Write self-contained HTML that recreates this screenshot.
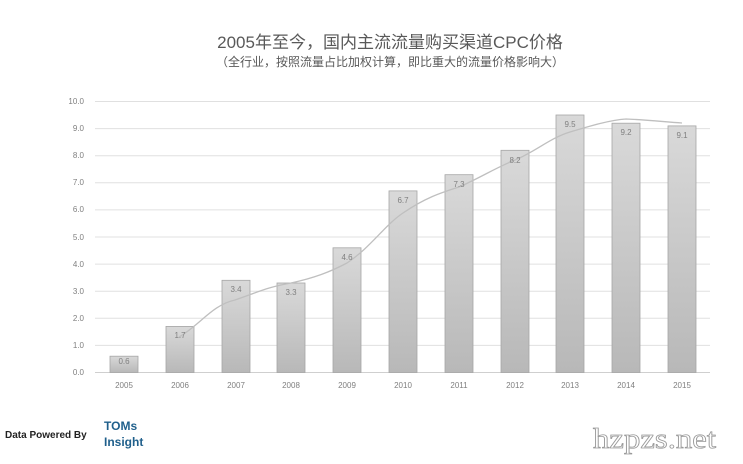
<!DOCTYPE html>
<html><head><meta charset="utf-8"><style>
html,body{margin:0;padding:0;background:#fff;width:743px;height:464px;overflow:hidden}
</style></head><body>
<svg width="743" height="464" xmlns="http://www.w3.org/2000/svg" font-family="Liberation Sans, Noto Sans CJK SC, sans-serif">
<defs><linearGradient id="g" x1="0" y1="0" x2="0" y2="1"><stop offset="0" stop-color="#d9d9d9"/><stop offset="1" stop-color="#b8b8b8"/></linearGradient></defs>
<text x="390" y="48" text-anchor="middle" font-size="17" fill="#595959">2005年至今，国内主流流量购买渠道CPC价格</text>
<text x="390" y="66" text-anchor="middle" font-size="12" fill="#595959">（全行业，按照流量占比加权计算，即比重大的流量价格影响大）</text>
<g stroke="#e0e0e0" stroke-width="1">
<line x1="95" x2="710" y1="101.5" y2="101.5"/><line x1="95" x2="710" y1="128.6" y2="128.6"/><line x1="95" x2="710" y1="155.7" y2="155.7"/><line x1="95" x2="710" y1="182.8" y2="182.8"/><line x1="95" x2="710" y1="209.9" y2="209.9"/><line x1="95" x2="710" y1="237" y2="237"/><line x1="95" x2="710" y1="264.1" y2="264.1"/><line x1="95" x2="710" y1="291.2" y2="291.2"/><line x1="95" x2="710" y1="318.3" y2="318.3"/><line x1="95" x2="710" y1="345.4" y2="345.4"/><line x1="95" x2="710" y1="372.5" y2="372.5" stroke="#cfcfcf"/>
</g>
<g font-size="8" fill="#7f7f7f" text-anchor="end">
<text x="84" y="104">10.0</text><text x="84" y="131">9.0</text><text x="84" y="158">8.0</text><text x="84" y="185">7.0</text><text x="84" y="212">6.0</text><text x="84" y="240">5.0</text><text x="84" y="267">4.0</text><text x="84" y="294">3.0</text><text x="84" y="321">2.0</text><text x="84" y="348">1.0</text><text x="84" y="375">0.0</text>
</g>
<g fill="url(#g)" stroke="#a6a6a6" stroke-width="0.8">
<rect x="110" y="356.2" width="28" height="16.3"/>
<rect x="166" y="326.4" width="28" height="46.1"/>
<rect x="222" y="280.3" width="28" height="92.2"/>
<rect x="277" y="283" width="28" height="89.5"/>
<rect x="333" y="247.8" width="28" height="124.7"/>
<rect x="389" y="190.9" width="28" height="181.6"/>
<rect x="445" y="174.7" width="28" height="197.8"/>
<rect x="501" y="150.3" width="28" height="222.2"/>
<rect x="556" y="115" width="28" height="257.5"/>
<rect x="612" y="123.2" width="28" height="249.3"/>
<rect x="668" y="125.9" width="28" height="246.6"/>
</g>
<path d="M179,337 C200,325 212,305 235,300 C258,292 268,287 291,283 C314,278 330,272 347,263 C370,248 385,225 403,213 C425,198 440,193 459,187 C480,178 495,168 515,160 C535,152 550,138 570,132 C590,126 610,120 626,119 C650,120 665,122 682,123" fill="none" stroke="#bfbfbf" stroke-width="1.3"/>
<g font-size="8" fill="#7f7f7f" text-anchor="middle">
<text x="124" y="364">0.6</text><text x="180" y="338">1.7</text><text x="236" y="292">3.4</text><text x="291" y="295">3.3</text><text x="347" y="260">4.6</text><text x="403" y="203">6.7</text><text x="459" y="187">7.3</text><text x="515" y="163">8.2</text><text x="570" y="127">9.5</text><text x="626" y="135">9.2</text><text x="682" y="138">9.1</text>
</g>
<g font-size="8" fill="#7f7f7f" text-anchor="middle">
<text x="124" y="388">2005</text><text x="180" y="388">2006</text><text x="236" y="388">2007</text><text x="291" y="388">2008</text><text x="347" y="388">2009</text><text x="403" y="388">2010</text><text x="459" y="388">2011</text><text x="515" y="388">2012</text><text x="570" y="388">2013</text><text x="626" y="388">2014</text><text x="682" y="388">2015</text>
</g>
<text x="5" y="438" font-size="10" font-weight="bold" fill="#222">Data Powered By</text>
<text x="104" y="430" font-size="12" font-weight="bold" fill="#1f5f8b">TOMs</text>
<text x="104" y="446" font-size="12" font-weight="bold" fill="#1f5f8b">Insight</text>
<text x="593" y="448" font-size="28" textLength="123" lengthAdjust="spacingAndGlyphs" font-family="Liberation Serif, serif" fill="#fff" stroke="#999" stroke-width="0.8">hzpzs.net</text>
</svg>
</body></html>
